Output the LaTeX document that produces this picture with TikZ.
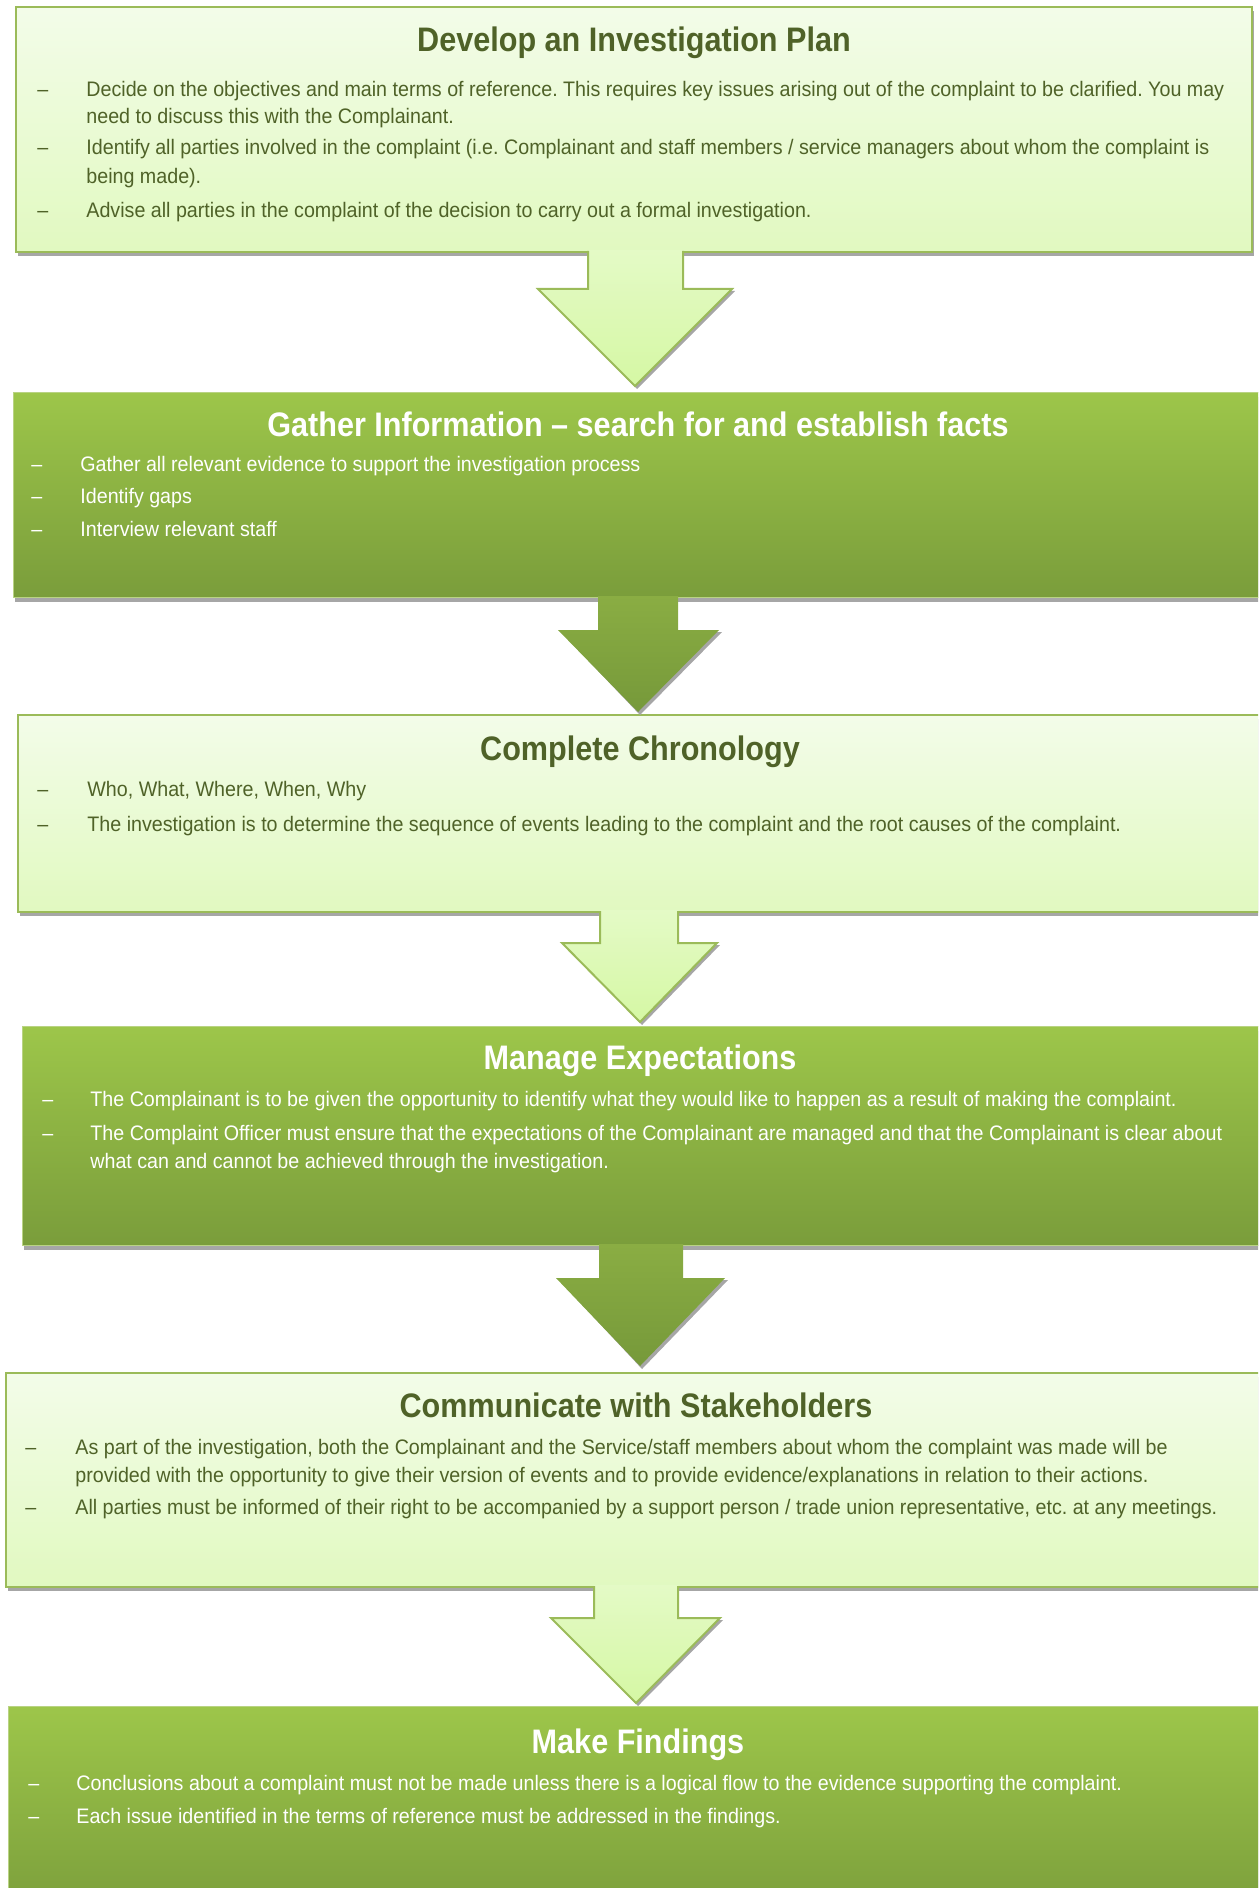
\documentclass[tikz,border=0pt]{standalone}
\usepackage{fontspec}
\setmainfont{Liberation Sans}[FakeStretch=0.937]
\newfontfamily\ttlfont{Liberation Sans}[FakeStretch=0.9]
\usetikzlibrary{shadows}
\frenchspacing
\definecolor{ltop}{HTML}{F3FCE9}
\definecolor{lbot}{HTML}{E1F9C0}
\definecolor{lborder}{HTML}{9BBB59}
\definecolor{dtop}{HTML}{9DC64A}
\definecolor{dbot}{HTML}{7A9D3B}
\definecolor{dborder}{HTML}{B9D383}
\definecolor{latop}{HTML}{E4FAC6}
\definecolor{labot}{HTML}{D5F8A4}
\definecolor{datop}{HTML}{8AAD43}
\definecolor{dabot}{HTML}{76993A}
\definecolor{shgray}{HTML}{A6A6A6}
\definecolor{dtext}{HTML}{4F6228}
\newcommand\bul[6]{\node[#1] (#2d) at (#3,#5) {–};\node[#1] (#2) at (#4,#5) {#6};}
\newcommand\blockarrow[9]{%
  \fill[shgray] (#6+3,#5+2) -- (#8+2,#9+3) -- (#7+3,#5+2) -- cycle;
  \path[#1] (#2,#4) -- (#2,#5) -- (#6,#5) -- (#8,#9) -- (#7,#5) -- (#3,#5) -- (#3,#4) -- cycle;}
\begin{document}
\begin{tikzpicture}[x=0.5pt,y=-0.5pt,
  lightbox/.style={draw=lborder, line width=1pt, top color=ltop, bottom color=lbot, inner sep=0pt,
    drop shadow={shadow xshift=1pt, shadow yshift=-2pt, fill=shgray, opacity=1}},
  darkbox/.style={draw=dborder, line width=0.5pt, top color=dtop, bottom color=dbot, inner sep=0pt,
    drop shadow={shadow xshift=1pt, shadow yshift=-2.5pt, fill=shgray, opacity=1}},
  larrow/.style={top color=latop, bottom color=labot},
  darrow/.style={top color=datop, bottom color=dabot},
  larrowline/.style={draw=lborder, line width=1pt, line join=miter},
  ltxt/.style={text=dtext, font=\fontsize{10.5pt}{12pt}\selectfont, inner sep=0pt, anchor=base west},
  dtxt/.style={text=white, font=\fontsize{10.5pt}{12pt}\selectfont, inner sep=0pt, anchor=base west},
  lttl/.style={text=dtext, font={\ttlfont\bfseries\fontsize{17pt}{20pt}\selectfont}, inner sep=0pt, anchor=base},
  dttl/.style={text=white, font={\ttlfont\bfseries\fontsize{17pt}{20pt}\selectfont}, inner sep=0pt, anchor=base}]
\useasboundingbox (0,0) rectangle (1258,1888);
\clip (0,0) rectangle (1258,1888);

% boxes
\node[lightbox, minimum width=618pt, minimum height=122.5pt] (b1) at (634,129.5) {};
\node[darkbox, minimum width=624.5pt, minimum height=102.5pt] (b2) at (637.5,494.5) {};
\node[lightbox, minimum width=622pt, minimum height=98.5pt] (b3) at (640,813.5) {};
\node[darkbox, minimum width=620pt, minimum height=109.5pt] (b4) at (642,1135.5) {};
\node[lightbox, minimum width=628pt, minimum height=107pt] (b5) at (634,1480) {};
\node[darkbox, minimum width=627pt, minimum height=107pt] (b6) at (635,1813) {};

% arrows
\blockarrow{larrow}{588}{683}{250}{289}{538}{732}{635}{386}
\draw[larrowline] (588,251) -- (588,289) -- (538,289) -- (635,386) -- (732,289) -- (683,289) -- (683,251);
\blockarrow{darrow}{598}{678}{596}{630}{558}{719}{638}{712}
\blockarrow{larrow}{600}{678}{910}{943}{562}{717}{640}{1022}
\draw[larrowline] (600,911) -- (600,943) -- (562,943) -- (640,1022) -- (717,943) -- (678,943) -- (678,911);
\blockarrow{darrow}{599}{683}{1244}{1278}{556}{725}{640}{1366}
\blockarrow{larrow}{594}{678}{1585}{1618}{551}{720}{636}{1703}
\draw[larrowline] (594,1586) -- (594,1618) -- (551,1618) -- (636,1703) -- (720,1618) -- (678,1618) -- (678,1586);

% box 1
\node[lttl] (t1) at (634,52) {Develop an Investigation Plan};
\bul{ltxt}{a1}{37}{86}{97}{Decide on the objectives and main terms of reference. This requires key issues arising out of the complaint to be clarified. You may}
\node[ltxt] (a1b) at (86,124) {need to discuss this with the Complainant.};
\bul{ltxt}{a2}{37}{86}{155}{Identify all parties involved in the complaint (i.e. Complainant and staff members / service managers about whom the complaint is}
\node[ltxt] (a2b) at (86,184) {being made).};
\bul{ltxt}{a3}{37}{86}{218}{Advise all parties in the complaint of the decision to carry out a formal investigation.}

% box 2
\node[dttl] (t2) at (638,436) {Gather Information – search for and establish facts};
\bul{dtxt}{c1}{31}{80}{471}{Gather all relevant evidence to support the investigation process}
\bul{dtxt}{c2}{31}{80}{503}{Identify gaps}
\bul{dtxt}{c3}{31}{80}{536}{Interview relevant staff}

% box 3
\node[lttl] (t3) at (640,760) {Complete Chronology};
\bul{ltxt}{e1}{37}{87}{796}{Who, What, Where, When, Why}
\bul{ltxt}{e2}{37}{87}{831}{The investigation is to determine the sequence of events leading to the complaint and the root causes of the complaint.}

% box 4
\node[dttl] (t4) at (640,1069) {Manage Expectations};
\bul{dtxt}{g1}{42}{90}{1106}{The Complainant is to be given the opportunity to identify what they would like to happen as a result of making the complaint.}
\bul{dtxt}{g2}{42}{90}{1140}{The Complaint Officer must ensure that the expectations of the Complainant are managed and that the Complainant is clear about}
\node[dtxt] (g2b) at (90,1168) {what can and cannot be achieved through the investigation.};

% box 5
\node[lttl] (t5) at (636,1417) {Communicate with Stakeholders};
\bul{ltxt}{k1}{25}{75}{1454}{As part of the investigation, both the Complainant and the Service/staff members about whom the complaint was made will be}
\node[ltxt] (k1b) at (75,1482) {provided with the opportunity to give their version of events and to provide evidence/explanations in relation to their actions.};
\bul{ltxt}{k2}{25}{75}{1514}{All parties must be informed of their right to be accompanied by a support person / trade union representative, etc. at any meetings.}

% box 6
\node[dttl] (t6) at (638,1753) {Make Findings};
\bul{dtxt}{m1}{28}{76}{1790}{Conclusions about a complaint must not be made unless there is a logical flow to the evidence supporting the complaint.}
\bul{dtxt}{m2}{28}{76}{1823}{Each issue identified in the terms of reference must be addressed in the findings.}
\end{tikzpicture}
\end{document}
